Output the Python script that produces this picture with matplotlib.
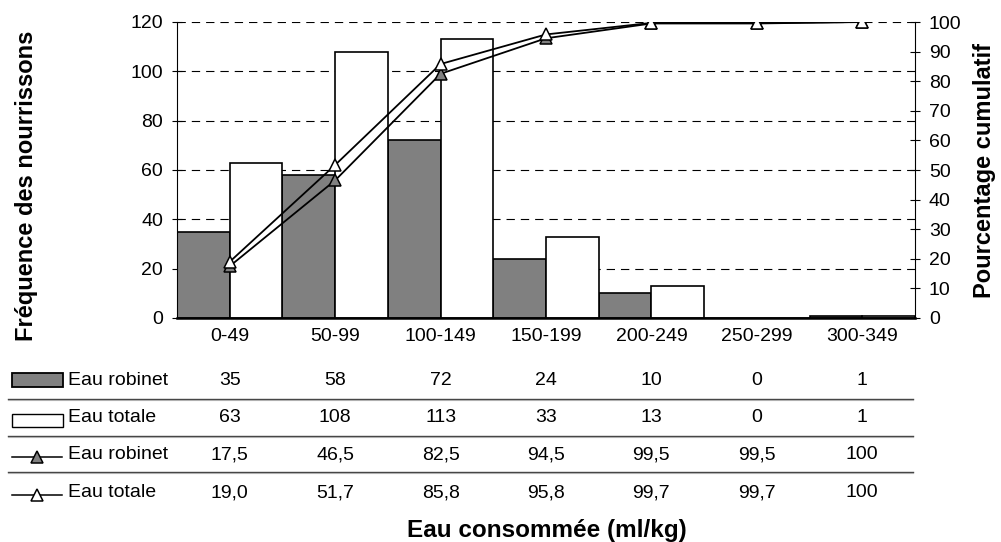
import numpy as np
import matplotlib.pyplot as plt
from matplotlib.lines import Line2D
from matplotlib.patches import Rectangle
from matplotlib import transforms

plt.rcParams['font.family'] = ['Liberation Sans', 'DejaVu Sans']
plt.rcParams['lines.scale_dashes'] = False

# Data
categories = ['0-49', '50-99', '100-149', '150-199', '200-249', '250-299', '300-349']
freq_robinet = [35, 58, 72, 24, 10, 0, 1]
freq_totale = [63, 108, 113, 33, 13, 0, 1]
cum_robinet = [17.5, 46.5, 82.5, 94.5, 99.5, 99.5, 100]
cum_totale = [19.0, 51.7, 85.8, 95.8, 99.7, 99.7, 100]
row_labels = ['Eau robinet', 'Eau totale', 'Eau robinet', 'Eau totale']
row_text = [
    [str(v) for v in freq_robinet],
    [str(v) for v in freq_totale],
    [('%g' % v).replace('.', ',') for v in cum_robinet],
    ['100' if v == 100 else ('%.1f' % v).replace('.', ',') for v in cum_totale],
]

W, H = 1001, 542
GRAY = '#808080'


def fy(py):
    return 1 - py / H


fig = plt.figure(figsize=(W / 100, H / 100), dpi=100)
ax = fig.add_axes([177 / W, fy(318), (915 - 177) / W, (318 - 22) / H])

x = np.arange(len(categories))
bw = 0.5
ax.bar(x - bw / 2, freq_robinet, bw, color=GRAY, edgecolor='black', linewidth=1.2, zorder=2)
ax.bar(x + bw / 2, freq_totale, bw, color='white', edgecolor='black', linewidth=1.2, zorder=2)
ax.set_xlim(-0.5, len(categories) - 0.5)
ax.set_ylim(0, 120)
ax.set_yticks(range(0, 121, 20))
ax.set_xticks(x, categories)
ax.yaxis.grid(True, linestyle=(0, (6, 4.3)), color='black', linewidth=0.8)
ax.set_axisbelow(True)
ax.tick_params(axis='y', direction='inout', length=7, width=0.8, pad=6.5, labelsize=14)
ax.tick_params(axis='x', length=0, pad=7, labelsize=14)
for s in ['top', 'right']:
    ax.spines[s].set_visible(False)
ax.spines['left'].set_linewidth(0.8)
ax.spines['bottom'].set_linewidth(1.8)

# Cumulative percentages on the right axis
ax2 = ax.twinx()
ax2.set_ylim(0, 100)
ax2.set_yticks(range(0, 101, 10))
ax2.tick_params(axis='y', direction='inout', length=7, width=0.8, pad=6.5, labelsize=14)
for s in ['top', 'left', 'bottom']:
    ax2.spines[s].set_visible(False)
ax2.spines['right'].set_linewidth(0.8)
ax2.plot(x, cum_robinet, color='black', linewidth=1.3, marker='^', markersize=8,
         markerfacecolor=GRAY, markeredgecolor='black', markeredgewidth=1.1, zorder=3)
ax2.plot(x, cum_totale, color='black', linewidth=1.3, marker='^', markersize=8,
         markerfacecolor='white', markeredgecolor='black', markeredgewidth=1.1, zorder=4)

# Axis titles
fig.text(33 / W, fy(186), 'Fréquence des nourrissons', rotation=90, rotation_mode='anchor',
         ha='center', va='baseline', fontsize=17, fontweight='bold')
fig.text(991 / W, fy(170), 'Pourcentage cumulatif', rotation=90, rotation_mode='anchor',
         ha='center', va='baseline', fontsize=17, fontweight='bold')
fig.text(547 / W, fy(537), 'Eau consommée (ml/kg)', ha='center', va='baseline',
         fontsize=17.5, fontweight='bold')

# Data table under the chart
trans = transforms.blended_transform_factory(ax.transData, fig.transFigure)
baselines = [385, 422, 459, 497]
for r, (label, vals) in enumerate(zip(row_labels, row_text)):
    fig.text(68 / W, fy(baselines[r]), label, ha='left', va='baseline', fontsize=14)
    for i, v in enumerate(vals):
        fig.text(x[i], fy(baselines[r]), v, ha='center', va='baseline', fontsize=14,
                 transform=trans)

# row separators: dark line with a lighter one just beneath
for py in [399, 436, 472]:
    fig.add_artist(Line2D([8 / W, 913 / W], [fy(py), fy(py)], color='#404040', linewidth=1.0))
    fig.add_artist(Line2D([8 / W, 913 / W], [fy(py + 1.3), fy(py + 1.3)], color='#b0b0b0',
                          linewidth=0.8))

# Legend keys in the table
fig.add_artist(Rectangle((12 / W, fy(387)), 51 / W, 14 / H, facecolor=GRAY,
                         edgecolor='black', linewidth=1.3))
fig.add_artist(Rectangle((12 / W, fy(427)), 51 / W, 13 / H, facecolor='white',
                         edgecolor='black', linewidth=1.0))
for py, fc in [(457, GRAY), (495, 'white')]:
    fig.add_artist(Line2D([12 / W, 62 / W], [fy(py), fy(py)], color='black', linewidth=1.1))
    fig.add_artist(Line2D([37 / W], [fy(py)], marker='^', markersize=8, markerfacecolor=fc,
                          markeredgecolor='black', markeredgewidth=1.1, linestyle='none'))

fig.savefig('out.png', dpi=100)
